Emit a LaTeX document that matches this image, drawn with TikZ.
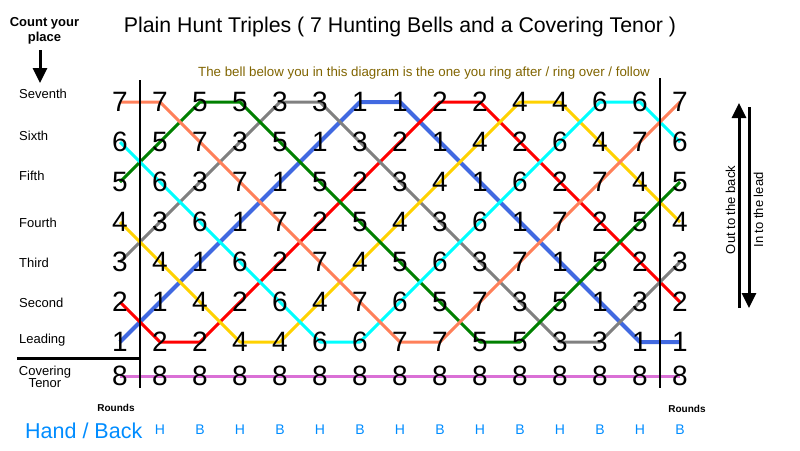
\documentclass[tikz,border=0pt]{standalone}
\usepackage{fontspec}
\setmainfont{Liberation Sans}
\usetikzlibrary{arrows.meta,backgrounds}
\definecolor{bellblue}{RGB}{65,105,225}
\definecolor{bellred}{RGB}{255,0,0}
\definecolor{bellgray}{RGB}{128,128,128}
\definecolor{bellyellow}{RGB}{255,210,0}
\definecolor{bellgreen}{RGB}{0,128,0}
\definecolor{bellcyan}{RGB}{0,255,255}
\definecolor{bellcoral}{RGB}{255,128,90}
\definecolor{tenorpink}{RGB}{218,112,214}
\definecolor{noteolive}{RGB}{128,100,0}
\definecolor{strokeblue}{RGB}{0,140,255}

\begin{document}
\begin{tikzpicture}[x=1pt, y=-1pt,
    digit/.style={font=\fontsize{28}{28}\selectfont, inner sep=0pt},
    placename/.style={font=\fontsize{13}{13}\selectfont, anchor=base west, inner sep=0pt},
    hb/.style={font=\fontsize{14}{14}\selectfont, text=strokeblue, anchor=base, inner sep=0pt},
    rounds/.style={font=\bfseries\fontsize{10}{10}\selectfont, anchor=base, inner sep=0pt},
    bigarrow/.style={line width=3pt, -{Triangle[width=14pt,length=15pt]}}]
    \useasboundingbox (0,0) rectangle (800,450);

    % Titel und Hinweis
    \node[font=\fontsize{21.3}{21.3}\selectfont, anchor=base, inner sep=0pt] (title) at (400,32)
        {Plain Hunt Triples ( 7 Hunting Bells and a Covering Tenor )};
    \node[font=\fontsize{13.3}{13.3}\selectfont, text=noteolive, anchor=base west, inner sep=0pt] (note) at (198,76)
        {The bell below you in this diagram is the one you ring after / ring over / follow};

    % Count your place
    \node[font=\bfseries\fontsize{13}{15}\selectfont, align=center, inner sep=0pt, anchor=north] (count) at (44.5,17) {Count your\\place};
    \draw[bigarrow] (40,50) -- (40,83);

    % Places
    \foreach \name/\y in {Seventh/98, Sixth/140, Fifth/180, Fourth/227, Third/267, Second/307, Leading/343} {
        \node[placename] (lbl-\name) at (19,\y) {\name};
    }
    \node[font=\fontsize{13}{12}\selectfont, align=center, inner sep=0pt, anchor=north] (lbl-Tenor) at (45,365.5) {Covering\\Tenor};

    % Hunting bells
    \foreach \b/\seq in {1/{1,2,3,4,5,6,7,7,6,5,4,3,2,1,1},
                         2/{2,1,1,2,3,4,5,6,7,7,6,5,4,3,2},
                         3/{3,4,5,6,7,7,6,5,4,3,2,1,1,2,3},
                         4/{4,3,2,1,1,2,3,4,5,6,7,7,6,5,4},
                         5/{5,6,7,7,6,5,4,3,2,1,1,2,3,4,5},
                         6/{6,5,4,3,2,1,1,2,3,4,5,6,7,7,6},
                         7/{7,7,6,5,4,3,2,1,1,2,3,4,5,6,7}} {
        \foreach \p [count=\c from 0] in \seq {
            \node[digit] (\b-\c) at (120+40*\c, 382-40*\p) {\b};
        }
    }
    % Covering tenor
    \foreach \c in {0,...,14} {
        \node[digit] (8-\c) at (120+40*\c, 376) {8};
    }

    \begin{pgfonlayer}{background}
        \foreach \b/\col/\w in {1/bellblue/4, 2/bellred/3, 3/bellgray/3, 4/bellyellow/3,
                                5/bellgreen/3, 6/bellcyan/3, 7/bellcoral/3} {
            \draw[\col, line width=\w pt, line join=round] (\b-0.center)
                \foreach \c in {1,...,14} { -- (\b-\c.center) };
        }
        \draw[tenorpink, line width=3pt] (8-0.center) -- (8-14.center);
    \end{pgfonlayer}

    % Trennlinien
    \draw[line width=2pt] (140,80) -- (140,388);
    \draw[line width=1.7pt] (660,78) -- (660,388);
    \draw[line width=3pt] (17,358.5) -- (140,358.5);

    % Richtung
    \draw[bigarrow] (739,308) -- (739,103);
    \draw[bigarrow] (749,107) -- (749,308);
    \node[rotate=90, font=\fontsize{13}{13}\selectfont, inner sep=0pt] (outback) at (730.5,210) {Out to the back};
    \node[rotate=90, font=\fontsize{13}{13}\selectfont, inner sep=0pt] (inlead) at (758.5,210) {In to the lead};

    % Hand / Back
    \node[rounds] (rounds-l) at (116,411) {Rounds};
    \node[rounds] (rounds-r) at (687,412) {Rounds};
    \node[font=\fontsize{21.5}{21.5}\selectfont, text=strokeblue, anchor=base west, inner sep=0pt] (handback) at (25,438) {Hand / Back};
    \foreach \c/\s in {1/H, 2/B, 3/H, 4/B, 5/H, 6/B, 7/H, 8/B, 9/H, 10/B, 11/H, 12/B, 13/H, 14/B} {
        \node[hb] (hb-\c) at (120+40*\c, 434) {\s};
    }
\end{tikzpicture}
\end{document}
